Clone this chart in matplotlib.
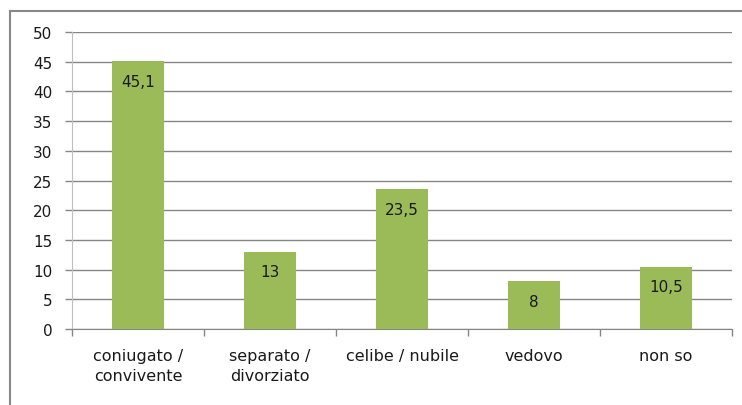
import matplotlib
matplotlib.use("Agg")
import matplotlib.pyplot as plt
from matplotlib.lines import Line2D
import numpy as np

categories = ["coniugato /\nconvivente", "separato /\ndivorziato", "celibe / nubile", "vedovo", "non so"]
values = [45.1, 13, 23.5, 8, 10.5]
value_labels = ["45,1", "13", "23,5", "8", "10,5"]
y_ticks = [0, 5, 10, 15, 20, 25, 30, 35, 40, 45, 50]

plt.rcParams['font.family'] = ['DejaVu Sans']

fig = plt.figure(figsize=(7.42, 4.06), dpi=100)
ax = fig.add_axes([72 / 742, 76 / 406, 660 / 742, 297 / 406])

x = np.arange(len(categories))
bars = ax.bar(x, values, width=0.39, color="#9BBB59", zorder=3)

# etichette dei valori dentro le barre
for xi, v, lab in zip(x, values, value_labels):
    ax.annotate(lab, (xi, v), xytext=(0, -20), textcoords="offset pixels",
                ha="center", va="center", fontsize=11, color="#1a1a1a", zorder=4)

ax.set_xlim(-0.5, len(categories) - 0.5)
ax.set_ylim(0, 50)
ax.set_yticks(y_ticks)
ax.yaxis.grid(True, color="#868686", linewidth=1, zorder=0)
ax.set_axisbelow(True)

ax.set_xticks(x)
ax.set_xticklabels(categories, fontsize=11.5, color="#1a1a1a", linespacing=1.4)
ax.tick_params(axis="x", which="major", length=0, pad=14)
ax.set_xticks(np.arange(len(categories) + 1) - 0.5, minor=True)
ax.tick_params(axis="x", which="minor", length=5, color="#868686", width=1)
ax.tick_params(axis="y", length=5, color="#868686", width=1, pad=9,
               labelsize=11, labelcolor="#1a1a1a")

for s in ["top", "right"]:
    ax.spines[s].set_visible(False)
ax.spines["bottom"].set_color("#868686")
ax.spines["left"].set_color("#BFBFBF")

# cornice esterna del grafico
fig.add_artist(Line2D([10 / 742, 10 / 742], [0, 1 - 12 / 406], transform=fig.transFigure,
                      color="#888888", linewidth=1.5))
fig.add_artist(Line2D([10 / 742, 1], [1 - 12 / 406, 1 - 12 / 406], transform=fig.transFigure,
                      color="#888888", linewidth=1.5))

fig.savefig("out.png", dpi=100)
